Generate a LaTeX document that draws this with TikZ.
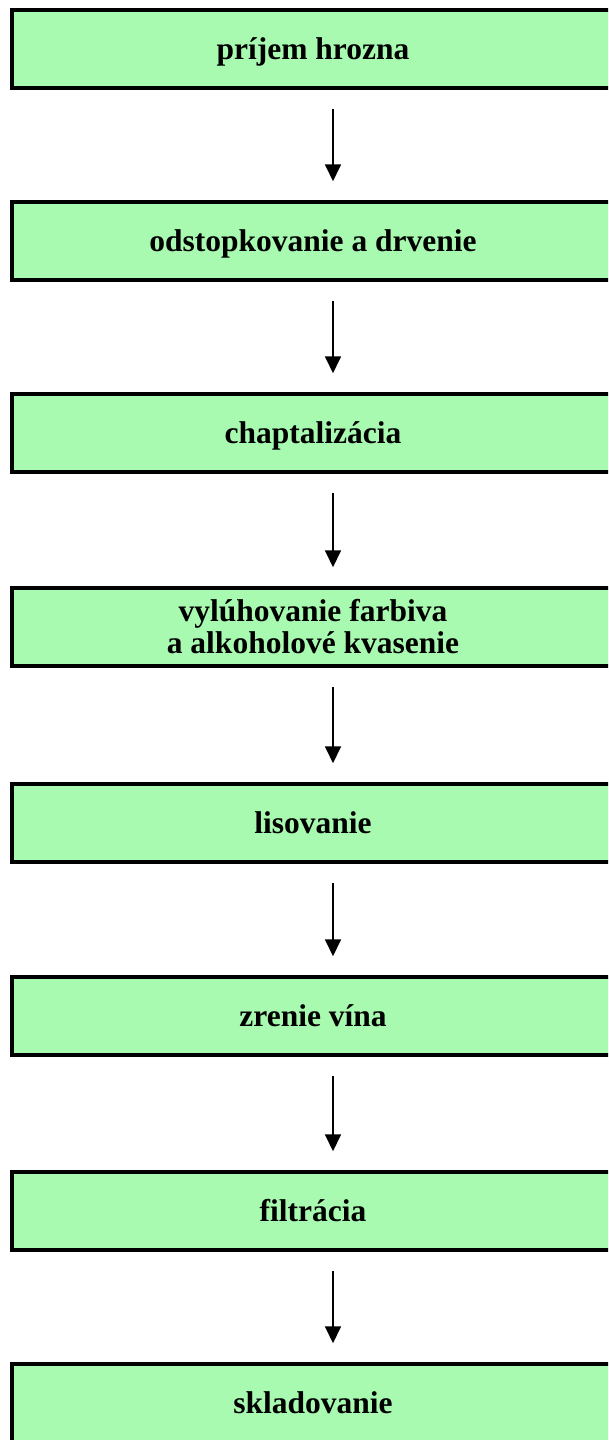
\documentclass[tikz,border=0pt]{standalone}
\usepackage{fontspec}
\setmainfont{Liberation Serif}
\usetikzlibrary{arrows.meta}
\definecolor{boxgreen}{RGB}{168,250,176}
\begin{document}
\begin{tikzpicture}[x=1pt,y=-1pt,
  stepbox/.style={draw=black, line width=3.5pt, fill=boxgreen,
    minimum width=602pt, minimum height=78pt, inner sep=0pt,
    font=\fontsize{31.5}{32}\selectfont\bfseries,
    text height=20pt, text depth=0pt},
  twoline/.style={align=center, text height=, text depth=},
  flow/.style={draw=black, line width=1.8pt,
    -{Triangle[width=16pt,length=17pt]},
    shorten <=19pt, shorten >=19pt}
]
\useasboundingbox (0,0) rectangle (608,1440);
\clip (0,0) rectangle (608,1440);
\node[stepbox] (b1) at (313,49)   {príjem hrozna};
\node[stepbox] (b2) at (313,241)  {odstopkovanie a drvenie};
\node[stepbox] (b3) at (313,433)  {chaptalizácia};
\node[stepbox,twoline] (b4) at (313,627) {vylúhovanie farbiva\\a alkoholové kvasenie};
\node[stepbox] (b5) at (313,823)  {lisovanie};
\node[stepbox] (b6) at (313,1016) {zrenie vína};
\node[stepbox] (b7) at (313,1211) {filtrácia};
\node[stepbox] (b8) at (313,1403) {skladovanie};
\foreach \a/\b in {b1/b2,b2/b3,b3/b4,b4/b5,b5/b6,b6/b7,b7/b8}
  \draw[flow] ([xshift=20pt]\a.south) -- ([xshift=20pt]\b.north);
\end{tikzpicture}
\end{document}
